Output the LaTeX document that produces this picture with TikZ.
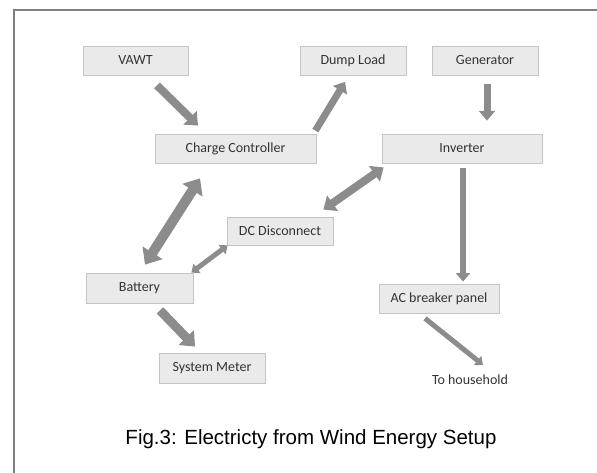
\documentclass[tikz,border=0pt]{standalone}
\usepackage{fontspec}
\setmainfont{Carlito}
\newfontfamily\capfont{Liberation Sans}
\usepackage{tikz}
\usetikzlibrary{arrows.meta,positioning}
\usepackage{xcolor}
\definecolor{boxfill}{HTML}{EAEAEA}
\definecolor{boxline}{HTML}{C4C4C4}
\definecolor{arrgray}{HTML}{8C8C8C}
\definecolor{txtgray}{HTML}{333333}
\definecolor{framegray}{HTML}{808080}

\begin{document}
\begin{tikzpicture}[x=1pt,y=-1pt,every node/.style={font=\fontsize{14}{16}\selectfont,text=txtgray}]
  \tikzstyle{Box}=[draw=boxline, fill=boxfill, line width=0.8pt, minimum height=29pt, inner sep=0pt]
  \tikzstyle{Flow}=[draw=arrgray, -{Triangle[length=0pt 1.4,width=0pt 2.3]}]
  \tikzstyle{BiFlow}=[draw=arrgray, {Triangle[length=0pt 1.4,width=0pt 2.3]}-{Triangle[length=0pt 1.4,width=0pt 2.3]}]
  \useasboundingbox (0,0) rectangle (597,473);
  \draw[framegray, line width=2pt] (597,10) -- (14,10) -- (14,473);

  \node[Box, minimum width=105pt] (vawt) at (135.5,60.5) {VAWT};
  \node[Box, minimum width=106pt] (dump) at (353,61) {Dump Load};
  \node[Box, minimum width=106pt] (gen) at (485,60.5) {Generator};
  \node[Box, minimum width=161pt] (cc) at (235.5,148.5) {Charge Controller};
  \node[Box, minimum width=160pt] (inv) at (462,148.5) {Inverter};
  \node[Box, minimum width=106pt, minimum height=28pt] (dc) at (280,231) {DC Disconnect};
  \node[Box, minimum width=107pt, minimum height=30pt] (batt) at (139.5,288) {Battery};
  \node[Box, minimum width=106pt, minimum height=30pt] (meter) at (212,368) {System Meter};
  \node[Box, minimum width=120pt] (acp) at (439,298.5) {AC breaker panel};
  \node[inner sep=0pt] (house) at (470,380) {To household};
  \node[text=black, font=\capfont\fontsize{20.5}{24}\selectfont] (cap) at (311,439) {Fig.3: Electricty from Wind Energy Setup};

  \draw[Flow, line width=8pt] ([xshift=21.5pt,yshift=-10pt]vawt.south) -- ([xshift=-37.5pt,yshift=8pt]cc.north);
  \draw[Flow, line width=7pt] ([xshift=-1pt,yshift=3pt]cc.north east) -- ([xshift=-8pt,yshift=-6pt]dump.south);
  \draw[Flow, line width=7pt] ([xshift=2pt,yshift=-9pt]gen.south) -- ([xshift=25pt,yshift=13pt]inv.north);
  \draw[BiFlow, line width=10pt] ([xshift=-35.5pt,yshift=-15pt]cc.south) -- ([xshift=5.5pt,yshift=8pt]batt.north);
  \draw[BiFlow, line width=8pt] ([xshift=2pt,yshift=-4pt]inv.south west) -- ([xshift=-10pt,yshift=7pt]dc.north east);
  \draw[BiFlow, line width=5pt] ([xshift=1pt]dc.south west) -- ([xshift=-2pt]batt.north east);
  \draw[Flow, line width=6pt] ([xshift=1pt,yshift=-5pt]inv.south) -- ([xshift=24pt,yshift=2pt]acp.north);
  \draw[Flow, line width=9pt] ([xshift=20.5pt,yshift=-7pt]batt.south) -- ([xshift=-17pt,yshift=6pt]meter.north);
  \draw[Flow, line width=5pt] ([xshift=-14pt,yshift=-5pt]acp.south) -- ([xshift=13pt,yshift=10pt]house.north);
\end{tikzpicture}
\end{document}
